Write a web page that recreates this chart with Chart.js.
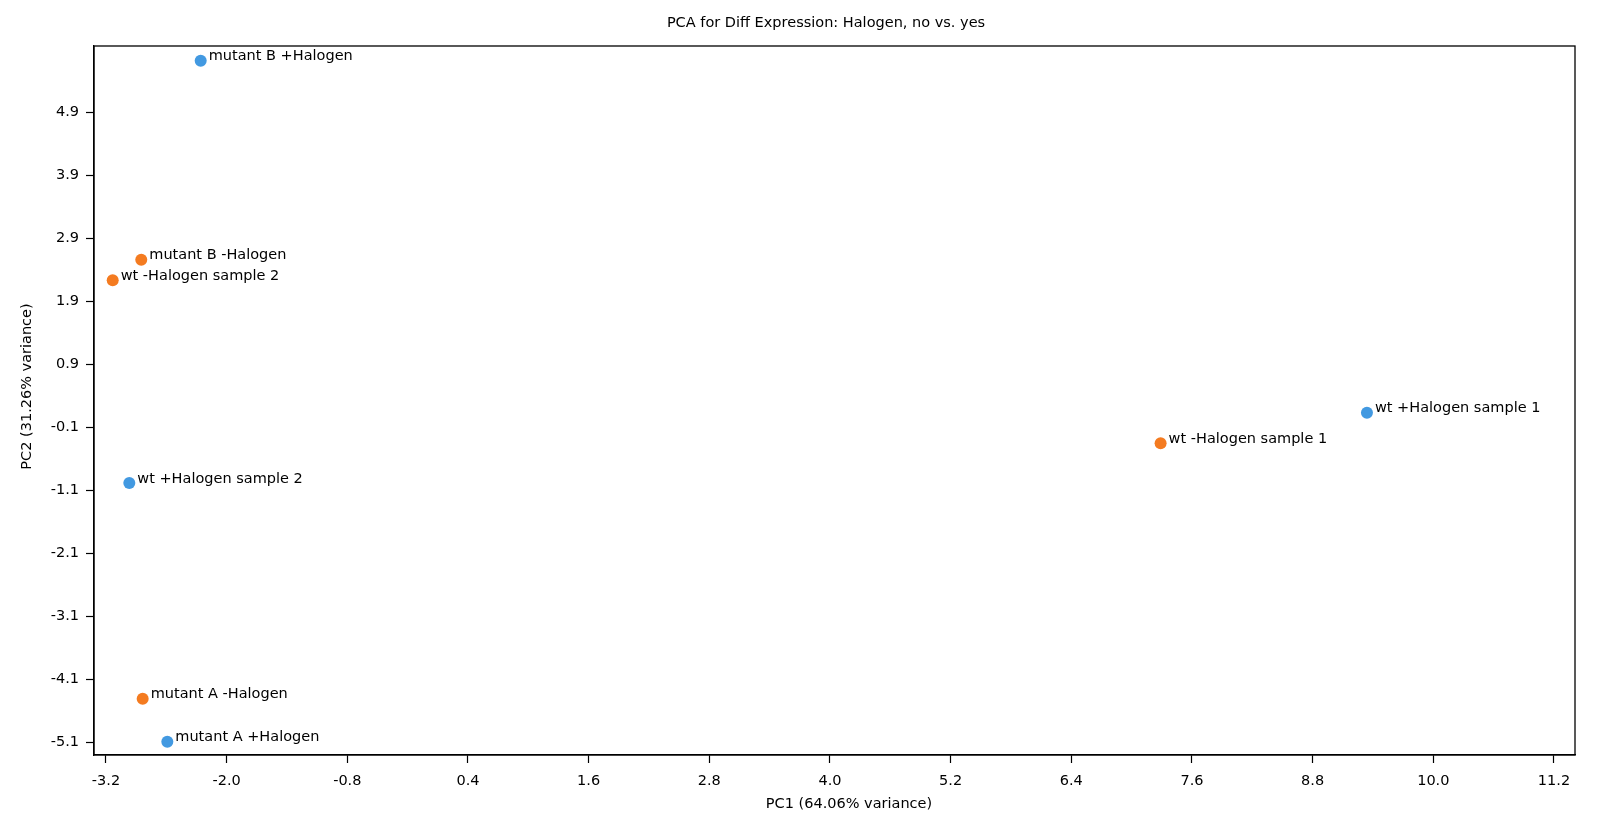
<!DOCTYPE html>
<html>
<head>
<meta charset="utf-8">
<script src="https://cdn.jsdelivr.net/npm/chart.js@4.4.1/dist/chart.umd.min.js"></script>
<style>
  html, body { margin: 0; padding: 0; background: #fff; }
  #wrap { width: 1600px; height: 839px; }
</style>
</head>
<body>
<div id="wrap"><canvas id="pca" width="1600" height="839"></canvas></div>
<script>
// Samples and their PCA coordinates
const yesNames = ['mutant B +Halogen', 'wt +Halogen sample 1', 'wt +Halogen sample 2', 'mutant A +Halogen'];
const yesPC1 = [-2.258, 9.340, -2.968, -2.590];
const yesPC2 = [5.719, 0.135, -0.980, -5.084];

const noNames = ['mutant B -Halogen', 'wt -Halogen sample 2', 'wt -Halogen sample 1', 'mutant A -Halogen'];
const noPC1 = [-2.849, -3.133, 7.288, -2.835];
const noPC2 = [2.562, 2.235, -0.351, -4.402];

const xTicks = [-3.2, -2.0, -0.8, 0.4, 1.6, 2.8, 4.0, 5.2, 6.4, 7.6, 8.8, 10.0, 11.2];
const yTicks = [-5.1, -4.1, -3.1, -2.1, -1.1, -0.1, 0.9, 1.9, 2.9, 3.9, 4.9];

const FONT = 'DejaVu Sans';
const FS = 14.5;
const pts = (xs, ys, names) => xs.map((x, i) => ({ x, y: ys[i], name: names[i] }));

// Point labels beside each marker
const pointLabels = {
  id: 'pointLabels',
  afterDatasetsDraw(chart) {
    const ctx = chart.ctx;
    ctx.save();
    ctx.font = FS + 'px "' + FONT + '"';
    ctx.fillStyle = '#000';
    ctx.textBaseline = 'middle';
    ctx.textAlign = 'left';
    chart.data.datasets.forEach((ds, di) => {
      chart.getDatasetMeta(di).data.forEach((el, i) => {
        ctx.fillText(ds.data[i].name, el.x + 8, el.y - 4);
      });
    });
    ctx.restore();
  }
};

// Full box around the axes, the title and both axis titles
const frame = {
  id: 'frame',
  afterDraw(chart) {
    const a = chart.chartArea, ctx = chart.ctx;
    ctx.save();
    ctx.strokeStyle = '#000';
    ctx.lineWidth = 1.3;
    ctx.strokeRect(a.left, a.top, a.right - a.left, a.bottom - a.top);
    ctx.font = FS + 'px "' + FONT + '"';
    ctx.fillStyle = '#000';
    ctx.textAlign = 'center';
    ctx.textBaseline = 'middle';
    ctx.fillText('PCA for Diff Expression: Halogen, no vs. yes', 826, 23);
    ctx.fillText('PC1 (64.06% variance)', 849, 804);
    ctx.translate(27, (a.top + a.bottom) / 2 - 14);
    ctx.rotate(-Math.PI / 2);
    ctx.fillText('PC2 (31.26% variance)', 0, 0);
    ctx.restore();
  }
};

new Chart(document.getElementById('pca'), {
  type: 'scatter',
  data: {
    datasets: [
      { label: 'yes', data: pts(yesPC1, yesPC2, yesNames), backgroundColor: '#4299e1', borderWidth: 0, pointRadius: 6, pointHoverRadius: 6 },
      { label: 'no', data: pts(noPC1, noPC2, noNames), backgroundColor: '#f47b20', borderWidth: 0, pointRadius: 6, pointHoverRadius: 6 }
    ]
  },
  options: {
    responsive: false,
    animation: false,
    layout: { padding: { left: 0, right: 25, top: 46, bottom: 0 } },
    plugins: {
      legend: { display: false },
      tooltip: { enabled: false },
      title: { display: false }
    },
    scales: {
      x: {
        type: 'linear',
        min: -3.319,
        max: 11.409,
        afterBuildTicks: s => { s.ticks = xTicks.map(v => ({ value: v })); },
        afterFit: s => { s.height = 84; },
        grid: { drawOnChartArea: false, drawTicks: true, tickLength: 8, color: '#000', tickWidth: 1.2 },
        border: { display: true, color: '#000', width: 1.3 },
        ticks: { color: '#000', font: { family: FONT, size: FS }, padding: 10, maxRotation: 0, autoSkip: false,
                 callback: v => v.toFixed(1) },
        title: { display: false }
      },
      y: {
        type: 'linear',
        min: -5.295,
        max: 5.952,
        afterBuildTicks: s => { s.ticks = yTicks.map(v => ({ value: v })); },
        afterFit: s => { s.width = 94; },
        grid: { drawOnChartArea: false, drawTicks: true, tickLength: 8, color: '#000', tickWidth: 1.2 },
        border: { display: true, color: '#000', width: 1.3 },
        ticks: { color: '#000', font: { family: FONT, size: FS }, padding: 7, autoSkip: false,
                 callback: v => v.toFixed(1) },
        title: { display: false }
      }
    }
  },
  plugins: [pointLabels, frame]
});
</script>
</body>
</html>
